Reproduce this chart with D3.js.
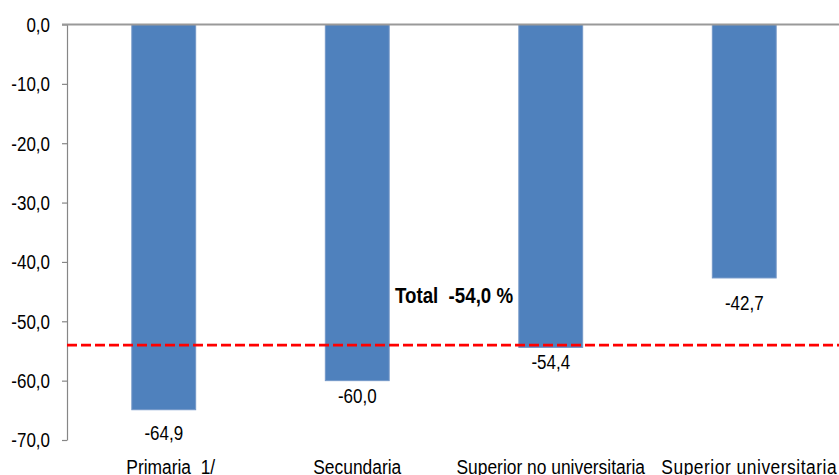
<!DOCTYPE html>
<html>
<head>
<meta charset="utf-8">
<script src="https://cdn.jsdelivr.net/npm/d3@7"></script>
<style>
  html, body { margin: 0; padding: 0; background: #fff; }
  svg text { font-family: "Liberation Sans", Arial, sans-serif; white-space: pre; fill: #000; }
</style>
</head>
<body>
<svg id="chart" width="839" height="475"></svg>
<script>
// ---- data ----
const categories = ["Primaria  1/", "Secundaria", "Superior no universitaria", "Superior universitaria"];
const values = [-64.9, -60.0, -54.4, -42.7];
const valueLabels = ["-64,9", "-60,0", "-54,4", "-42,7"];
const totalValue = -54.0;
const totalLabel = "Total  -54,0 %";
const yTicks = [0, -10, -20, -30, -40, -50, -60, -70];
const yTickLabels = ["0,0", "-10,0", "-20,0", "-30,0", "-40,0", "-50,0", "-60,0", "-70,0"];

// ---- layout ----
const W = 839, H = 475;
const xLeft = 67, xRight = 841;
const labelDy = [30, 22, 22, 32];
const sx = 0.87;

const svg = d3.select("#chart");

const x = d3.scaleBand().domain(categories).range([xLeft, xRight])
  .paddingInner(0.67).paddingOuter(0.335);
const y = d3.scaleLinear().domain([-70, 0]).range([440, 24.5]);

function addText(g, tx, ty, str, size, anchor, weight) {
  return g.append("text")
    .attr("transform", `translate(${tx},${ty}) scale(${sx},1)`)
    .attr("text-anchor", anchor)
    .style("font-size", size + "px")
    .style("font-weight", weight || "normal")
    .text(str);
}

// bars
svg.append("g").selectAll("rect").data(values).enter().append("rect")
  .attr("x", (d, i) => x(categories[i]))
  .attr("width", x.bandwidth())
  .attr("y", y(0))
  .attr("height", d => y(d) - y(0))
  .attr("fill", "#4F81BD")
  .attr("stroke", "#7397c8")
  .attr("stroke-width", 1);

// y axis
const yAxis = d3.axisLeft(y)
  .tickValues(yTicks)
  .tickFormat((d, i) => yTickLabels[i])
  .tickSizeInner(5).tickSizeOuter(0).tickPadding(12);
const ga = svg.append("g").attr("transform", `translate(${xLeft},0)`).call(yAxis);
ga.select(".domain").attr("stroke", "#868686").attr("stroke-width", 1.2);
ga.selectAll(".tick line").attr("stroke", "#868686").attr("stroke-width", 1.2);
ga.selectAll(".tick text")
  .attr("x", null).attr("dy", "0.35em")
  .attr("transform", `translate(-17,0) scale(${sx},1)`)
  .style("font-size", "19.5px")
  .style("font-family", "'Liberation Sans', Arial, sans-serif")
  .attr("fill", "#000");

// zero line (category axis)
svg.append("line")
  .attr("x1", xLeft - 5).attr("x2", W)
  .attr("y1", y(0)).attr("y2", y(0))
  .attr("stroke", "#999").attr("stroke-width", 1.8);

// total dashed line
svg.append("line")
  .attr("x1", xLeft).attr("x2", W)
  .attr("y1", y(totalValue)).attr("y2", y(totalValue))
  .attr("stroke", "#FF0000").attr("stroke-width", 2.8)
  .attr("stroke-dasharray", "10,4");

// value labels
const gl = svg.append("g");
values.forEach((v, i) => {
  addText(gl, x(categories[i]) + x.bandwidth() / 2, y(v) + labelDy[i], valueLabels[i], 19.5, "middle");
});

// category labels
categories.forEach((c, i) => {
  const t = addText(gl, x(c) + x.bandwidth() / 2 + (i === 0 ? 7 : (i === 3 ? 5 : 0)), 474, c, 20, "middle");
  if (i === 3) t.style("letter-spacing", "0.6px");
});

// total label
const midX = (x(categories[1]) + x.bandwidth() + x(categories[2])) / 2;
addText(gl, midX, y(totalValue) - 42, totalLabel, 21.5, "middle", "bold");
</script>
</body>
</html>
